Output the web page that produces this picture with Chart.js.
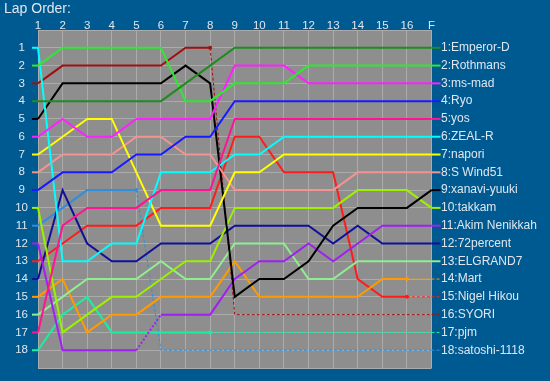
<!DOCTYPE html>
<html>
<head>
<meta charset="utf-8">
<script src="https://cdn.jsdelivr.net/npm/chart.js@4/dist/chart.umd.min.js"></script>
<style>
  html, body { margin: 0; padding: 0; background: #005a92; }
  #wrap { width: 550px; height: 381px; }
</style>
</head>
<body>
<div id="wrap"><canvas id="c" width="550" height="381"></canvas></div>
<script>
// ---- data (position at end of each lap) ----
const laps = ['1','2','3','4','5','6','7','8','9','10','11','12','13','14','15','16','F'];

const emperorD  = [4,4,4,4,4,4,3,2,1,1,1,1,1,1,1,1,1];
const rothmans  = [2,1,1,1,1,1,4,4,3,3,3,2,2,2,2,2,2];
const msMad     = [6,5,6,6,5,5,5,5,2,2,2,3,3,3,3,3,3];
const ryo       = [9,8,8,8,7,7,6,6,4,4,4,4,4,4,4,4,4];
const yos       = [17,11,10,10,10,9,9,9,5,5,5,5,5,5,5,5,5];
const zealR     = [1,13,13,12,12,8,8,8,7,7,6,6,6,6,6,6,6];
const napori    = [7,6,5,5,8,11,11,11,8,8,7,7,7,7,7,7,7];
const sWind51   = [8,7,7,7,6,6,7,7,9,9,9,9,9,8,8,8,8];
const xanavi    = [5,3,3,3,3,3,2,3,15,14,14,13,11,10,10,10,9];
const takkam    = [10,17,16,15,15,14,13,13,10,10,10,10,10,9,9,9,10];
const akim      = [12,18,18,18,18,16,16,16,14,13,13,12,13,12,11,11,11];
const percent72 = [14,9,12,13,13,12,12,12,11,11,11,11,12,11,12,12,12];
const elgrand7  = [16,15,14,14,14,13,14,14,12,12,12,14,14,13,13,13,13];
const mart      = [15,14,17,16,16,15,15,15,13,15,15,15,15,15,14,14,14];
const nigel     = [13,12,11,11,11,10,10,10,6,6,8,8,8,14,15,15,15];
const syori     = [3,2,2,2,2,2,1,1,16,16,16,16,16,16,16,16,16];
const pjm       = [18,16,15,17,17,17,17,17,17,17,17,17,17,17,17,17,17];
const satoshi   = [11,10,9,9,9,18,18,18,18,18,18,18,18,18,18,18,18];

// final order names (right-hand labels)
const names = ['Emperor-D','Rothmans','ms-mad','Ryo','yos','ZEAL-R','napori','S Wind51',
  'xanavi-yuuki','takkam','Akim Nenikkah','72percent','ELGRAND7','Mart','Nigel Hikou',
  'SYORI','pjm','satoshi-1118'];
const series = [emperorD, rothmans, msMad, ryo, yos, zealR, napori, sWind51, xanavi,
  takkam, akim, percent72, elgrand7, mart, nigel, syori, pjm, satoshi];
// last lap (1-based) driven on track; afterwards the line is dashed
const lastLap = [17,17,17,17,17,17,17,17,17,17,17,17,17,16,16,8,8,5];
// laps after which the next segment is dotted
const dottedAfter = [0,0,0,0,0,0,0,0,0,0,5,0,0,0,0,0,0,0];
const colors = ['#1e8c1e','#2fe82f','#ff20ff','#1a1aff','#ff1493','#00ffff','#ffff00','#f49490',
  '#000000','#9cf000','#a020f0','#10109a','#90ee90','#ff9a00','#ff1c1c','#a01010','#18f0a0','#2e8fdc'];

const txtColor = '#dfe6ee';
const FONT = 'Liberation Sans, Arial, sans-serif';

const datasets = series.map((d, i) => ({
  label: names[i],
  data: d,
  borderColor: colors[i],
  backgroundColor: colors[i],
  borderWidth: 2,
  fill: false,
  tension: 0,
  pointRadius: ctx => (ctx.dataIndex === lastLap[i] - 1 && lastLap[i] < laps.length) ? 2 : 0,
  pointBorderWidth: 0,
  pointBackgroundColor: colors[i],
  segment: {
    borderDash: ctx => {
      if (ctx.p0DataIndex >= lastLap[i] - 1) return [3, 2];
      if (dottedAfter[i] && ctx.p0DataIndex === dottedAfter[i] - 1) return [2, 2];
      return undefined;
    },
    borderWidth: ctx => (ctx.p0DataIndex >= lastLap[i] - 1) ? 1 : 2
  }
}));

const bgPlugin = {
  id: 'bg',
  beforeDraw(chart) {
    const {ctx, chartArea: a} = chart;
    ctx.save();
    ctx.fillStyle = '#005a92';
    ctx.fillRect(0, 0, chart.width, chart.height);
    ctx.fillStyle = '#8e8e8e';
    ctx.fillRect(a.left, a.top, a.right - a.left, a.bottom - a.top);
    ctx.restore();
  }
};

const stubPlugin = {
  id: 'stubs',
  afterDatasetsDraw(chart) {
    const {ctx} = chart;
    const xs = chart.scales.x, ys = chart.scales.y;
    ctx.save();
    chart.data.datasets.forEach((ds, i) => {
      const d = ds.data;
      const x0 = xs.getPixelForValue(0), xN = xs.getPixelForValue(d.length - 1);
      ctx.strokeStyle = colors[i];
      ctx.lineWidth = 2; ctx.setLineDash([]);
      let y = ys.getPixelForValue(d[0]);
      ctx.beginPath(); ctx.moveTo(x0 - 6, y); ctx.lineTo(x0, y); ctx.stroke();
      const dnf = lastLap[i] < laps.length;
      ctx.lineWidth = dnf ? 1 : 2;
      ctx.setLineDash(dnf ? [3, 2] : []);
      y = ys.getPixelForValue(d[d.length - 1]);
      ctx.beginPath(); ctx.moveTo(xN, y); ctx.lineTo(xN + 9, y); ctx.stroke();
    });
    ctx.restore();
  }
};

const posTicks = scale => {
  const t = [];
  for (let v = 0; v <= names.length + 1; v++) t.push({value: v});
  scale.ticks = t;
};
const noPad = s => { s.paddingTop = 0; s.paddingBottom = 0; };

new Chart(document.getElementById('c'), {
  type: 'line',
  data: { labels: laps, datasets },
  options: {
    responsive: false,
    animation: false,
    events: [],
    layout: { padding: { left: 4, right: 0, top: 0, bottom: 13 } },
    plugins: {
      legend: { display: false },
      tooltip: { enabled: false },
      title: {
        display: true, text: 'Lap Order:', align: 'start',
        color: txtColor, font: { family: FONT, size: 14, weight: 'normal' },
        padding: { top: 1, bottom: 0 }
      }
    },
    scales: {
      x: {
        type: 'category', position: 'top', offset: false,
        grid: { color: '#ababab', lineWidth: 1, drawTicks: false },
        border: { display: false },
        ticks: { color: txtColor, font: { family: FONT, size: 11.5, lineHeight: 0.8 }, padding: 0, maxRotation: 0, autoSkip: false },
        afterFit: s => { s.height = 12.2; s.paddingLeft = 0; s.paddingRight = 0; }
      },
      y: {
        type: 'linear', position: 'left', min: 0, max: names.length + 1, reverse: true,
        afterBuildTicks: posTicks,
        grid: { color: '#ababab', lineWidth: 1, drawTicks: false },
        border: { display: false },
        ticks: {
          color: txtColor, font: { family: FONT, size: 11.5 }, padding: 10, crossAlign: 'center',
          callback: v => (v >= 1 && v <= names.length) ? String(v) : ''
        },
        afterFit: s => { s.width = 34; noPad(s); }
      },
      y2: {
        type: 'linear', position: 'right', min: 0, max: names.length + 1, reverse: true,
        afterBuildTicks: posTicks,
        grid: { display: false, drawTicks: false },
        border: { display: false },
        ticks: {
          color: txtColor, font: { family: FONT, size: 12 }, padding: 9.5,
          callback: v => (v >= 1 && v <= names.length) ? (v + ':' + names[v - 1]) : ''
        },
        afterFit: s => { s.width = 118.5; noPad(s); }
      }
    }
  },
  plugins: [bgPlugin, stubPlugin]
});
</script>
</body>
</html>
